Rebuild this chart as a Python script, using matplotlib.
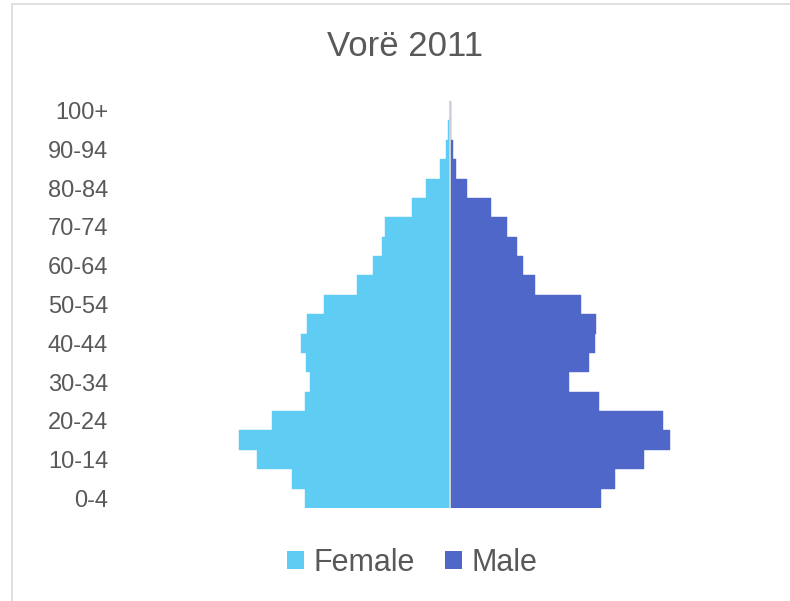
import matplotlib
matplotlib.use("Agg")
import matplotlib.pyplot as plt
from matplotlib.patches import Rectangle, Patch

# age groups, bottom to top
grupet = ["0-4", "5-9", "10-14", "15-19", "20-24", "25-29", "30-34", "35-39",
          "40-44", "45-49", "50-54", "55-59", "60-64", "65-69", "70-74",
          "75-79", "80-84", "85-89", "90-94", "95-99", "100+"]

# values (relative units)
femra = [146, 159, 194, 212, 179, 145.5, 141, 144.5, 150, 144, 126.5,
         93.5, 77, 68, 65.5, 38, 24.5, 10.5, 4, 2.5, 0.3]
meshkuj = [150.5, 165, 193.5, 219.5, 213, 149, 118.5, 138.5, 144.5, 146,
           131, 84.5, 73, 67, 57, 41, 16.5, 6, 2.5, 0.5, 0.2]

ngjyra_f = "#5ECCF3"
ngjyra_m = "#4E67C8"
gri = "#595959"

plt.rcParams['font.family'] = ['Liberation Sans', 'DejaVu Sans']

W, H = 790, 601
fig = plt.figure(figsize=(W / 100, H / 100), dpi=100)

# frame of the chart area (it runs off the right and bottom edges)
fig.patches.append(Rectangle((12 / W, -0.1), 1.2, (H - 4) / H + 0.1,
                             transform=fig.transFigure, fill=False,
                             edgecolor="#D9D9D9", linewidth=1.2))

ax_l, ax_r, ax_t, ax_b = 125, 776, 101, 508
ax = fig.add_axes([ax_l / W, 1 - ax_b / H, (ax_r - ax_l) / W, (ax_b - ax_t) / H])

y = range(len(grupet))
ax.barh(y, [-v for v in femra], height=1.0, color=ngjyra_f,
        edgecolor=ngjyra_f, linewidth=0.3)
ax.barh(y, meshkuj, height=1.0, color=ngjyra_m,
        edgecolor=ngjyra_m, linewidth=0.3)
ax.axvline(0, color="#D9D9D9", linewidth=1.3, zorder=3)

gjysma = (ax_r - ax_l) / 2
ax.set_xlim(-gjysma, gjysma)
ax.set_ylim(-0.5, len(grupet) - 0.5)

ax.set_yticks(list(y)[::2])
ax.set_yticklabels(grupet[::2])
ax.set_xticks([])
ax.tick_params(axis="y", length=0, pad=(ax_l - 108) * 72 / 100,
               labelsize=17, labelcolor=gri)
for s in ax.spines.values():
    s.set_visible(False)

fig.text(405.5 / W, 1 - 47 / H, "Vorë 2011", ha="center", va="center",
         fontsize=25, color=gri)

handles = [Patch(facecolor=ngjyra_f, label="Female"),
           Patch(facecolor=ngjyra_m, label="Male")]
fig.legend(handles=handles, loc="center", bbox_to_anchor=(412 / W, 1 - 563 / H),
           ncol=2, frameon=False, fontsize=22, labelcolor=gri,
           handlelength=0.55, handleheight=0.55, handletextpad=0.3,
           columnspacing=1.0)

fig.savefig("out.png", dpi=100)
